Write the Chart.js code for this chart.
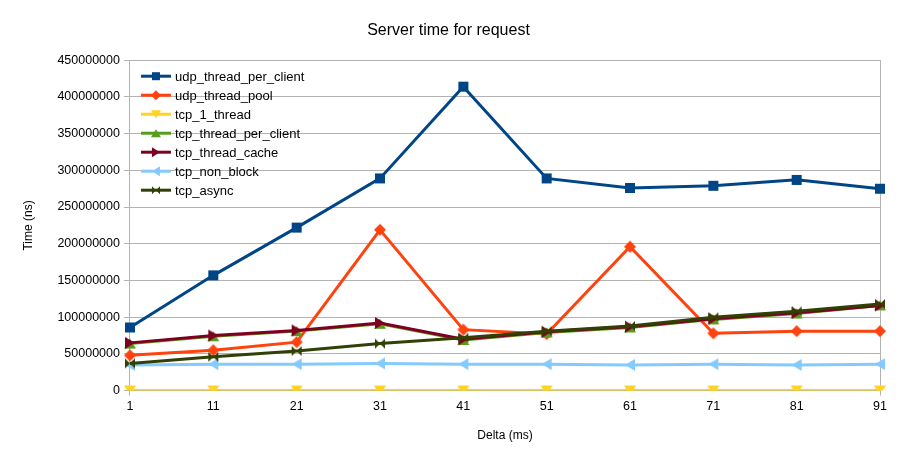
<!DOCTYPE html>
<html>
<head>
<meta charset="utf-8">
<script src="https://cdn.jsdelivr.net/npm/chart.js@4.4.1/dist/chart.umd.min.js"></script>
<style>
  body { margin: 0; background: #fff; }
  #chart { display: block; }
</style>
</head>
<body>
<canvas id="chart" width="905" height="460"></canvas>
<script>
// data (values in ns)
const deltas = ['1', '11', '21', '31', '41', '51', '61', '71', '81', '91'];
const seriesNames = ['udp_thread_per_client', 'udp_thread_pool', 'tcp_1_thread', 'tcp_thread_per_client', 'tcp_thread_cache', 'tcp_non_block', 'tcp_async'];
const udpThreadPerClient = [86e6, 157e6, 222e6, 289e6, 414e6, 289e6, 276e6, 279e6, 287e6, 275e6];
const udpThreadPool = [48e6, 55e6, 66e6, 219e6, 83e6, 77e6, 196e6, 78e6, 81e6, 81e6];
const tcp1Thread = [2e5, 2e5, 2e5, 2e5, 2e5, 2e5, 2e5, 2e5, 2e5, 2e5];
const tcpThreadPerClient = [64e6, 74e6, 81e6, 91e6, 69e6, 79e6, 86e6, 97e6, 105e6, 116e6];
const tcpThreadCache = [65e6, 75e6, 82e6, 92e6, 70e6, 80e6, 87e6, 98e6, 106e6, 116e6];
const tcpNonBlock = [35e6, 36e6, 36e6, 37e6, 36e6, 36e6, 35e6, 36e6, 35e6, 36e6];
const tcpAsync = [37e6, 46e6, 54e6, 64e6, 72e6, 81e6, 88e6, 100e6, 108e6, 118e6];
const yTicks = [0, 50e6, 100e6, 150e6, 200e6, 250e6, 300e6, 350e6, 400e6, 450e6];

const allValues = [udpThreadPerClient, udpThreadPool, tcp1Thread, tcpThreadPerClient, tcpThreadCache, tcpNonBlock, tcpAsync];
const colors = ['#004586', '#ff420e', '#ffd320', '#579d1c', '#7e0021', '#83caff', '#314004'];
const markers = ['square', 'diamond', 'triDown', 'triUp', 'triRight', 'triLeft', 'bowtie'];

// draw one marker shape centred on x,y
function drawMarker(ctx, kind, x, y, r) {
    ctx.beginPath();
    if (kind === 'square') {
        ctx.rect(x - r, y - r, r * 2, r * 2);
    } else if (kind === 'diamond') {
        ctx.moveTo(x, y - r - 1);
        ctx.lineTo(x + r + 1, y);
        ctx.lineTo(x, y + r + 1);
        ctx.lineTo(x - r - 1, y);
    } else if (kind === 'triDown') {
        ctx.moveTo(x - r - 1, y - r);
        ctx.lineTo(x + r + 1, y - r);
        ctx.lineTo(x, y + r);
    } else if (kind === 'triUp') {
        ctx.moveTo(x - r - 1, y + r);
        ctx.lineTo(x + r + 1, y + r);
        ctx.lineTo(x, y - r);
    } else if (kind === 'triRight') {
        ctx.moveTo(x - r, y - r - 1);
        ctx.lineTo(x - r, y + r + 1);
        ctx.lineTo(x + r, y);
    } else if (kind === 'triLeft') {
        ctx.moveTo(x + r, y - r - 1);
        ctx.lineTo(x + r, y + r + 1);
        ctx.lineTo(x - r, y);
    } else if (kind === 'bowtie') {
        ctx.moveTo(x - r, y - r);
        ctx.lineTo(x, y);
        ctx.lineTo(x - r, y + r);
        ctx.closePath();
        ctx.moveTo(x + r, y - r);
        ctx.lineTo(x, y);
        ctx.lineTo(x + r, y + r);
    }
    ctx.closePath();
    ctx.fill();
}

function markerImage(kind, color) {
    const c = document.createElement('canvas');
    c.width = 14;
    c.height = 14;
    const ctx = c.getContext('2d');
    ctx.fillStyle = color;
    drawMarker(ctx, kind, 7, 7, 5);
    return c;
}

const datasets = seriesNames.map((name, i) => ({
    label: name,
    data: allValues[i],
    borderColor: colors[i],
    backgroundColor: colors[i],
    borderWidth: 3,
    pointStyle: markerImage(markers[i], colors[i]),
    pointRadius: 5,
    tension: 0,
    order: seriesNames.length - i,
}));

// legend sits inside the plot, top-left, like the office chart
const insideLegend = {
    id: 'insideLegend',
    afterDraw(chart) {
        const ctx = chart.ctx;
        const area = chart.chartArea;
        ctx.save();
        ctx.font = '13px "Liberation Sans", Arial, sans-serif';
        ctx.textBaseline = 'middle';
        seriesNames.forEach((name, i) => {
            const y = area.top + 16 + i * 19;
            const x = area.left + 11;
            ctx.strokeStyle = colors[i];
            ctx.lineWidth = 3;
            ctx.beginPath();
            ctx.moveTo(x, y);
            ctx.lineTo(x + 30, y);
            ctx.stroke();
            ctx.fillStyle = colors[i];
            drawMarker(ctx, markers[i], x + 15, y, 4);
            ctx.fillStyle = '#000';
            ctx.fillText(name, x + 34, y + 1);
        });
        ctx.restore();
    },
};

// only the left axis and the right edge get a vertical line
const edgeGrid = (ctx) => (ctx.index === 0 || ctx.index === deltas.length - 1) ? '#b3b3b3' : 'rgba(0,0,0,0)';

new Chart(document.getElementById('chart'), {
    type: 'line',
    data: { labels: deltas, datasets: datasets },
    plugins: [insideLegend],
    options: {
        responsive: false,
        animation: false,
        layout: { padding: { left: 17, right: 25, top: 5, bottom: 13 } },
        font: { family: '"Liberation Sans", Arial, sans-serif' },
        scales: {
            x: {
                offset: false,
                grid: { color: edgeGrid, tickLength: 5, drawTicks: true },
                border: { color: '#b3b3b3' },
                ticks: { color: '#000', font: { size: 12.5 }, padding: 3, maxRotation: 0 },
                title: { display: true, text: 'Delta (ms)', color: '#000', font: { size: 12 }, padding: { top: 12 } },
            },
            y: {
                min: 0,
                max: 450e6,
                afterBuildTicks: (axis) => { axis.ticks = yTicks.map(v => ({ value: v })); },
                grid: { color: '#b3b3b3', tickLength: 6 },
                border: { color: '#b3b3b3' },
                ticks: { color: '#000', font: { size: 12.5 }, padding: 4, callback: (v) => String(v) },
                title: { display: true, text: 'Time (ns)', color: '#000', font: { size: 12 }, padding: { bottom: 18 } },
            },
        },
        plugins: {
            title: {
                display: true,
                text: 'Server time for request',
                color: '#000',
                font: { size: 16, weight: 'normal' },
                padding: { top: 16, bottom: 20 },
            },
            legend: { display: false },
            tooltip: { enabled: false },
        },
    },
});
</script>
</body>
</html>
